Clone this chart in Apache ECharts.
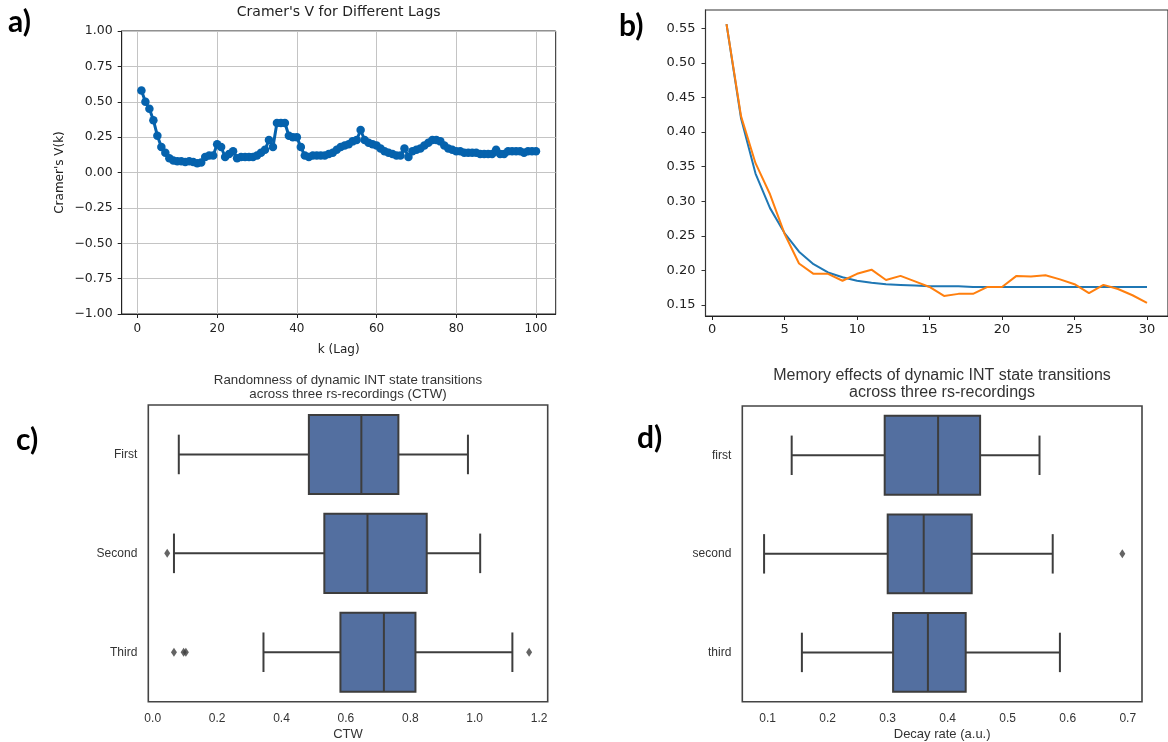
<!DOCTYPE html>
<html>
<head>
<meta charset="utf-8">
<script src="https://cdn.jsdelivr.net/npm/echarts@6/dist/echarts.min.js"></script>
<style>
  html, body { margin: 0; padding: 0; background: #fff; overflow: hidden; }
  #main { width: 1168px; height: 742px; }
</style>
</head>
<body>
<div id="main"></div>
<script>
// a) Cramer's V for lag k = 1..100
var cramerV = [
  0.58, 0.50, 0.45, 0.37, 0.26, 0.18, 0.14, 0.10, 0.085, 0.08,
  0.08, 0.075, 0.08, 0.075, 0.065, 0.07, 0.11, 0.12, 0.12, 0.20,
  0.18, 0.11, 0.13, 0.15, 0.10, 0.11, 0.11, 0.11, 0.11, 0.12,
  0.14, 0.16, 0.23, 0.18, 0.35, 0.35, 0.35, 0.26, 0.25, 0.25,
  0.18, 0.12, 0.11, 0.12, 0.12, 0.12, 0.12, 0.13, 0.14, 0.16,
  0.18, 0.19, 0.20, 0.22, 0.23, 0.30, 0.23, 0.21, 0.20, 0.19,
  0.17, 0.15, 0.14, 0.13, 0.12, 0.12, 0.17, 0.11, 0.15, 0.16,
  0.17, 0.19, 0.21, 0.23, 0.23, 0.22, 0.19, 0.17, 0.16, 0.15,
  0.15, 0.14, 0.14, 0.14, 0.14, 0.13, 0.13, 0.13, 0.13, 0.16,
  0.13, 0.13, 0.15, 0.15, 0.15, 0.15, 0.14, 0.15, 0.15, 0.15
];
var lagTicks = [0, 20, 40, 60, 80, 100];

// b) decay over lag 1..30: observed (orange) and fitted exponential (blue)
var decayObserved = [
  0.556, 0.423, 0.355, 0.31, 0.253, 0.21, 0.195, 0.195, 0.185, 0.195,
  0.201, 0.186, 0.192, 0.184, 0.176, 0.163, 0.166, 0.166, 0.176, 0.176,
  0.192, 0.191, 0.193, 0.187, 0.180, 0.167, 0.179, 0.173, 0.164, 0.153
];
var decayFit = [
  0.556, 0.42, 0.34, 0.29, 0.254, 0.227, 0.209, 0.197, 0.19, 0.185,
  0.182, 0.18, 0.179, 0.178, 0.177, 0.177, 0.177, 0.176, 0.176, 0.176,
  0.176, 0.176, 0.176, 0.176, 0.176, 0.176, 0.176, 0.176, 0.176, 0.176
];
var decayXTicks = [0, 5, 10, 15, 20, 25, 30];
var decayYTicks = [0.15, 0.20, 0.25, 0.30, 0.35, 0.40, 0.45, 0.50, 0.55];

// c) CTW box stats: [low whisker, Q1, median, Q3, high whisker]
var ctwCats = ['First', 'Second', 'Third'];
var ctwFirst = [0.081, 0.485, 0.648, 0.763, 0.979];
var ctwSecond = [0.066, 0.533, 0.667, 0.851, 1.017];
var ctwThird = [0.344, 0.583, 0.718, 0.816, 1.117];
var ctwOutliers = [[0.045, 1], [0.066, 2], [0.096, 2], [0.103, 2], [1.169, 2]];
var ctwTicks = [0, 0.2, 0.4, 0.6, 0.8, 1.0, 1.2];

// d) decay rate box stats
var rateCats = ['first', 'second', 'third'];
var rateFirst = [0.140, 0.295, 0.384, 0.454, 0.553];
var rateSecond = [0.094, 0.300, 0.360, 0.440, 0.575];
var rateThird = [0.157, 0.309, 0.367, 0.430, 0.587];
var rateOutliers = [[0.691, 1]];
var rateTicks = [0.1, 0.2, 0.3, 0.4, 0.5, 0.6, 0.7];

var boxFill = '#536fa0';
var boxLine = '#3d3d3d';
var mplFont = 'DejaVu Sans';
var sbFont = 'Liberation Sans';

function renderBox(params, api) {
  var cat = api.value(0);
  var band = api.size([0, 1])[1];
  var half = band * 0.4, cap = band * 0.2;
  var p = [1, 2, 3, 4, 5].map(function (d) { return api.coord([api.value(d), cat]); });
  var y = p[0][1];
  var ls = { stroke: boxLine, lineWidth: 2 };
  return {
    type: 'group',
    children: [
      { type: 'line', shape: { x1: p[0][0], y1: y, x2: p[1][0], y2: y }, style: ls },
      { type: 'line', shape: { x1: p[3][0], y1: y, x2: p[4][0], y2: y }, style: ls },
      { type: 'line', shape: { x1: p[0][0], y1: y - cap, x2: p[0][0], y2: y + cap }, style: ls },
      { type: 'line', shape: { x1: p[4][0], y1: y - cap, x2: p[4][0], y2: y + cap }, style: ls },
      { type: 'rect', shape: { x: p[1][0], y: y - half, width: p[3][0] - p[1][0], height: half * 2 },
        style: { fill: boxFill, stroke: boxLine, lineWidth: 2 } },
      { type: 'line', shape: { x1: p[2][0], y1: y - half, x2: p[2][0], y2: y + half }, style: ls }
    ]
  };
}

function boxRows(list) {
  return list.map(function (b, i) { return [i].concat(b); });
}

function fmtMinus(d) {
  return function (v) { return (v < 0 ? '\u2212' : '') + Math.abs(v).toFixed(d); };
}

function mplX(idx, min, max, ticks, name, gap) {
  return {
    gridIndex: idx, type: 'value', min: min, max: max,
    axisLine: { show: true, onZero: false, lineStyle: { color: '#222', width: 1 } },
    axisTick: { show: true, customValues: ticks, length: 4, lineStyle: { color: '#222' } },
    axisLabel: { customValues: ticks, margin: idx === 0 ? 9 : 7, color: '#222', fontFamily: mplFont, fontSize: idx === 0 ? 12 : 13 },
    splitLine: { show: idx === 0, lineStyle: { color: '#c4c4c4', width: 1 } },
    name: name, nameLocation: 'middle', nameGap: gap,
    nameTextStyle: { color: '#222', fontFamily: mplFont, fontSize: 12 }
  };
}

function sbX(idx, min, max, ticks, name) {
  return {
    gridIndex: idx, type: 'value', min: min, max: max,
    axisLine: { show: false }, axisTick: { show: false },
    axisLabel: { customValues: ticks, margin: 11, color: '#333', fontFamily: sbFont, fontSize: 12,
      formatter: function (v) { return v.toFixed(1); } },
    splitLine: { show: false },
    name: name, nameLocation: 'middle', nameGap: 26,
    nameTextStyle: { color: '#333', fontFamily: sbFont, fontSize: 13 }
  };
}

function sbY(idx, cats) {
  return {
    gridIndex: idx, type: 'category', data: cats, inverse: true,
    axisLine: { show: false }, axisTick: { show: false },
    axisLabel: { margin: 11, color: '#333', fontFamily: sbFont, fontSize: 12 },
    splitLine: { show: false }
  };
}

var chart = echarts.init(document.getElementById('main'));
chart.setOption({
  animation: false,
  backgroundColor: '#fff',
  grid: [
    { left: 121.7, top: 31, width: 434, height: 283, show: true, borderColor: '#222', borderWidth: 1 },
    { left: 705.5, top: 10, width: 470, height: 306, show: true, borderColor: '#333', borderWidth: 1.2 },
    { left: 148.3, top: 405, width: 399.4, height: 296.7, show: true, borderColor: '#444', borderWidth: 1.6 },
    { left: 742.3, top: 406, width: 399.7, height: 295.7, show: true, borderColor: '#444', borderWidth: 1.6 }
  ],
  xAxis: [
    mplX(0, -3.95, 104.95, lagTicks, 'k (Lag)', 30),
    mplX(1, -0.45, 31.45, decayXTicks, '', 0),
    sbX(2, -0.0137, 1.2267, ctwTicks, 'CTW'),
    sbX(3, 0.0577, 0.7238, rateTicks, 'Decay rate (a.u.)')
  ],
  yAxis: [
    {
      gridIndex: 0, type: 'value', min: -1, max: 1, interval: 0.25,
      axisLine: { show: true, onZero: false, lineStyle: { color: '#222' } },
      axisTick: { show: true, length: 4, lineStyle: { color: '#222' } },
      axisLabel: { margin: 9, color: '#222', fontFamily: mplFont, fontSize: 12.5, formatter: fmtMinus(2) },
      splitLine: { show: true, lineStyle: { color: '#c4c4c4', width: 1 } },
      name: "Cramer's V(k)", nameLocation: 'middle', nameGap: 56,
      nameTextStyle: { color: '#222', fontFamily: mplFont, fontSize: 12 }
    },
    {
      gridIndex: 1, type: 'value', min: 0.134, max: 0.5765,
      axisLine: { show: true, onZero: false, lineStyle: { color: '#333' } },
      axisTick: { show: true, customValues: decayYTicks, length: 4, lineStyle: { color: '#333' } },
      axisLabel: { customValues: decayYTicks, margin: 10, color: '#222', fontFamily: mplFont, fontSize: 13,
        formatter: function (v) { return v.toFixed(2); } },
      splitLine: { show: false }
    },
    sbY(2, ctwCats),
    sbY(3, rateCats)
  ],
  series: [
    {
      type: 'line', xAxisIndex: 0, yAxisIndex: 0,
      data: cramerV.map(function (v, i) { return [i + 1, v]; }),
      symbol: 'circle', symbolSize: 8.5, showSymbol: true,
      lineStyle: { color: '#0562ad', width: 3 },
      itemStyle: { color: '#0562ad' }
    },
    {
      type: 'line', xAxisIndex: 1, yAxisIndex: 1,
      data: decayFit.map(function (v, i) { return [i + 1, v]; }),
      symbol: 'none',
      lineStyle: { color: '#1f77b4', width: 2 }
    },
    {
      type: 'line', xAxisIndex: 1, yAxisIndex: 1,
      data: decayObserved.map(function (v, i) { return [i + 1, v]; }),
      symbol: 'none',
      lineStyle: { color: '#ff7f0e', width: 2 }
    },
    {
      type: 'custom', xAxisIndex: 2, yAxisIndex: 2,
      data: boxRows([ctwFirst, ctwSecond, ctwThird]),
      encode: { x: [1, 2, 3, 4, 5], y: 0 },
      renderItem: renderBox
    },
    {
      type: 'scatter', xAxisIndex: 2, yAxisIndex: 2,
      data: ctwOutliers, symbol: 'diamond', symbolSize: [6, 9],
      itemStyle: { color: boxLine }
    },
    {
      type: 'custom', xAxisIndex: 3, yAxisIndex: 3,
      data: boxRows([rateFirst, rateSecond, rateThird]),
      encode: { x: [1, 2, 3, 4, 5], y: 0 },
      renderItem: renderBox
    },
    {
      type: 'scatter', xAxisIndex: 3, yAxisIndex: 3,
      data: rateOutliers, symbol: 'diamond', symbolSize: [6, 9],
      itemStyle: { color: boxLine }
    }
  ],
  graphic: [
    { type: 'text', x: 338.7, y: 12, style: { text: "Cramer's V for Different Lags", fill: '#222',
      font: '14px "DejaVu Sans"', align: 'center', verticalAlign: 'middle', textAlign: 'center', textVerticalAlign: 'middle' } },
    { type: 'text', x: 348, y: 387, style: { text: 'Randomness of dynamic INT state transitions\nacross three rs-recordings (CTW)',
      fill: '#333', font: '13.3px "Liberation Sans"', lineHeight: 14, align: 'center', verticalAlign: 'middle',
      textAlign: 'center', textVerticalAlign: 'middle' } },
    { type: 'text', x: 942, y: 384, style: { text: 'Memory effects of dynamic INT state transitions\nacross three rs-recordings',
      fill: '#333', font: '16px "Liberation Sans"', lineHeight: 17.5, align: 'center', verticalAlign: 'middle',
      textAlign: 'center', textVerticalAlign: 'middle' } },
    { type: 'text', x: 8, y: 22, style: { text: 'a)', fill: '#000', font: 'bold 30px Lato', verticalAlign: 'middle', textVerticalAlign: 'middle' } },
    { type: 'text', x: 619, y: 26, style: { text: 'b)', fill: '#000', font: 'bold 30px Lato', verticalAlign: 'middle', textVerticalAlign: 'middle' } },
    { type: 'text', x: 16, y: 440, style: { text: 'c)', fill: '#000', font: 'bold 30px Lato', verticalAlign: 'middle', textVerticalAlign: 'middle' } },
    { type: 'text', x: 637, y: 438, style: { text: 'd)', fill: '#000', font: 'bold 30px Lato', verticalAlign: 'middle', textVerticalAlign: 'middle' } }
  ]
});
</script>
</body>
</html>
